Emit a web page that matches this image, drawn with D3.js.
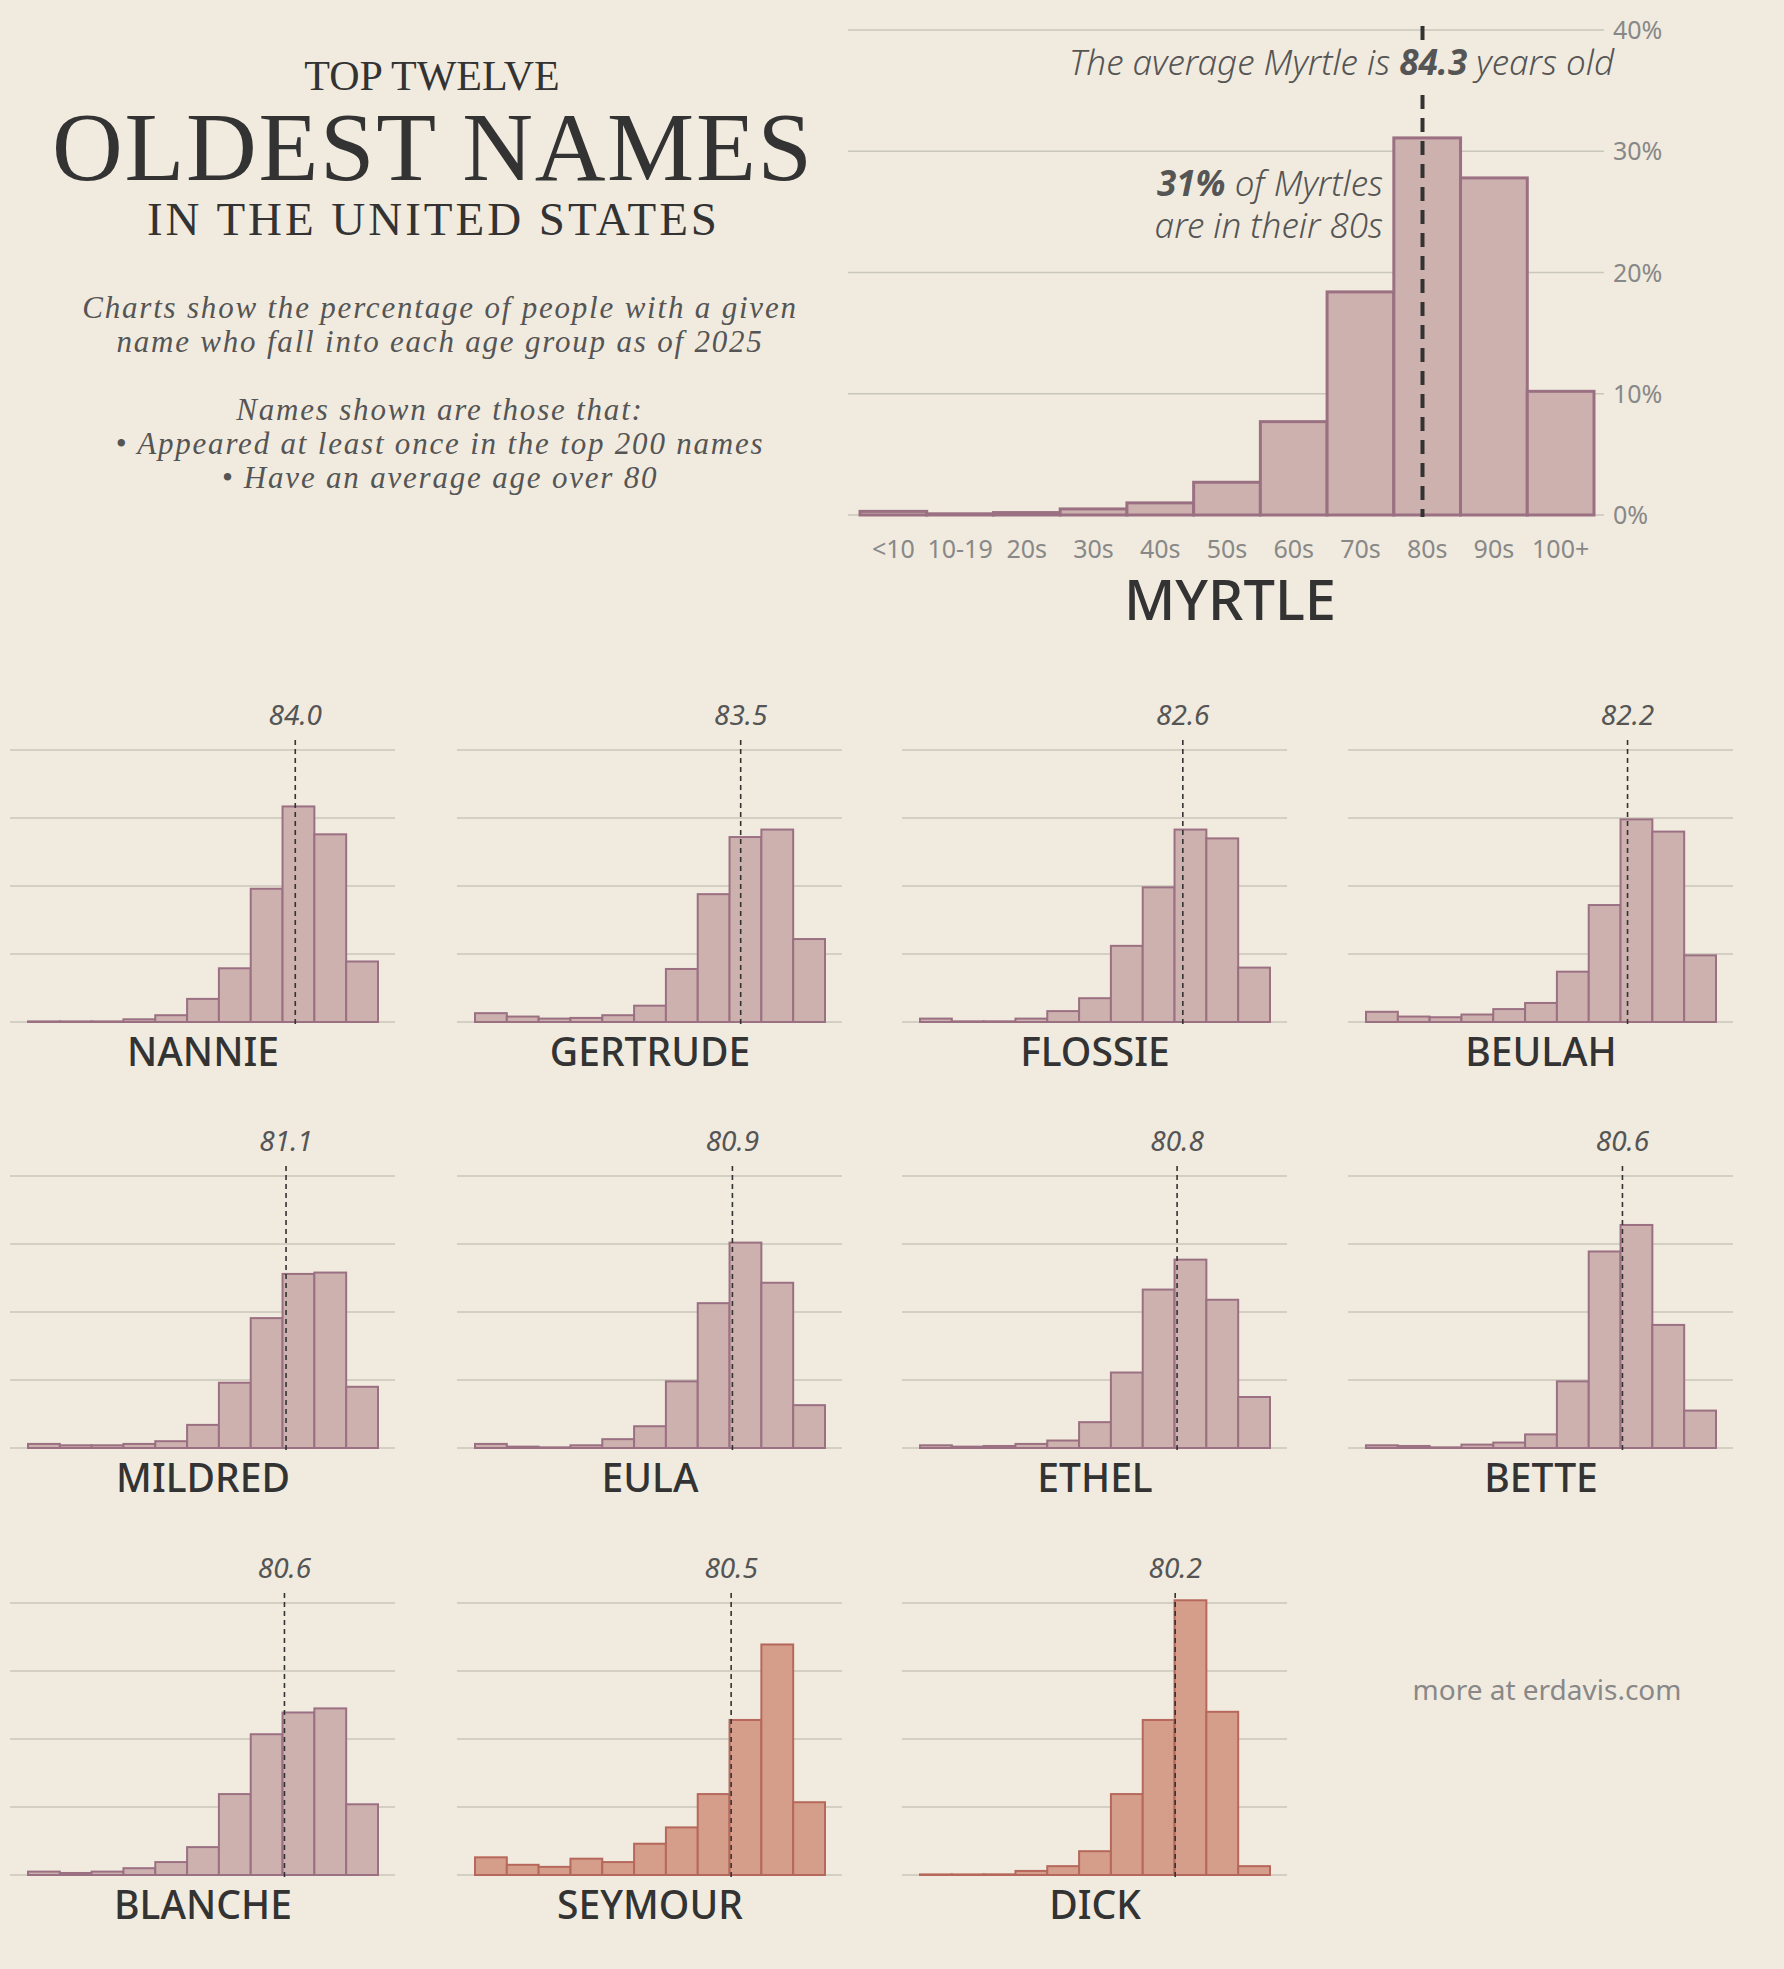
<!DOCTYPE html>
<html><head><meta charset="utf-8">
<script src="https://cdn.jsdelivr.net/npm/d3@7"></script>
<style>body{margin:0;background:#f1ebdf}</style></head>
<body><svg id="c" width="1784" height="1969"></svg>
<script>
const ageGroups = ["<10","10-19","20s","30s","40s","50s","60s","70s","80s","90s","100+"];
const yTicks = [0,10,20,30,40];
const names = ["NANNIE","GERTRUDE","FLOSSIE","BEULAH","MILDRED","EULA","ETHEL","BETTE","BLANCHE","SEYMOUR","DICK"];
const means = [84.0,83.5,82.6,82.2,81.1,80.9,80.8,80.6,80.6,80.5,80.2];
const male = ["SEYMOUR","DICK"];
const myrtle = [0.3,0.1,0.2,0.5,1.0,2.7,7.7,18.4,31.1,27.8,10.2];
const myrtleMean = 84.3;
const values = [
 [0,0,0,0.4,1.0,3.4,7.9,19.6,31.7,27.6,8.9],
 [1.3,0.8,0.5,0.6,1.0,2.4,7.8,18.8,27.2,28.3,12.2],
 [0.5,0.1,0.1,0.5,1.6,3.5,11.2,19.8,28.3,27.0,8.0],
 [1.5,0.8,0.7,1.1,1.9,2.8,7.4,17.2,29.8,28.0,9.8],
 [0.6,0.4,0.4,0.6,1.0,3.4,9.6,19.1,25.6,25.8,9.0],
 [0.6,0.2,0.1,0.4,1.3,3.2,9.8,21.3,30.2,24.3,6.3],
 [0.4,0.2,0.3,0.6,1.1,3.8,11.1,23.3,27.7,21.8,7.5],
 [0.4,0.3,0.1,0.5,0.8,2.0,9.8,28.9,32.8,18.1,5.5],
 [0.5,0.3,0.5,1.0,1.9,4.1,11.9,20.7,23.9,24.5,10.4],
 [2.6,1.5,1.2,2.4,1.9,4.6,7.0,11.9,22.8,33.9,10.7],
 [0,0,0.1,0.6,1.3,3.5,11.9,22.8,40.4,24.0,1.3]
];
const svg = d3.select("#c");
svg.append("rect").attr("width",1784).attr("height",1969).attr("fill","#f1ebdf");
const serif="'Liberation Serif','DejaVu Serif',serif", sans="'Noto Sans',Roboto,sans-serif";
const T = svg.append("g").attr("text-anchor","middle").attr("fill","#333").attr("font-family",serif);
T.append("text").attr("x",432).attr("y",90).attr("font-size",42).text("TOP TWELVE");
T.append("text").attr("x",432).attr("y",180).attr("font-size",98).attr("textLength",760).text("OLDEST NAMES");
T.append("text").attr("x",432).attr("y",235).attr("font-size",47).attr("textLength",570).text("IN THE UNITED STATES");
const sub=["Charts show the percentage of people with a given","name who fall into each age group as of 2025","","Names shown are those that:","• Appeared  at least once in the top 200 names","• Have an average age over 80"];
sub.forEach((s,i)=>T.append("text").attr("x",440).attr("y",318+i*34).attr("font-size",31).attr("font-style","italic").attr("fill","#555").attr("letter-spacing",1.8).text(s));

function hist(g, data, mean, opt){
  const x=d3.scaleBand().domain(ageGroups).range([opt.bx0,opt.bx1]).padding(0);
  const y=d3.scaleLinear().domain([0,40]).range([opt.base,opt.top]);
  const ax=d3.scaleLinear().domain([0,110]).range([opt.bx0,opt.bx1]);
  g.selectAll(".gl").data(yTicks).join("line").attr("x1",opt.gx0).attr("x2",opt.gx1)
   .attr("y1",d=>y(d)).attr("y2",d=>y(d)).attr("stroke","#c9c6ba").attr("stroke-width",1.3);
  g.selectAll(".b").data(data).join("rect").attr("x",(d,i)=>x(ageGroups[i])).attr("width",x.bandwidth())
   .attr("y",d=>Math.min(y(d),opt.base-0.6)).attr("height",d=>Math.max(opt.base-y(d),0.6)).attr("fill",opt.fill).attr("stroke",opt.stroke).attr("stroke-width",opt.sw);
  g.append("line").attr("x1",ax(mean)).attr("x2",ax(mean)).attr("y1",opt.lineTop).attr("y2",opt.base+2)
   .attr("stroke","#333").attr("stroke-width",opt.lw).attr("stroke-dasharray",opt.dash);
  return {x,y,ax};
}
// Myrtle
const gm=svg.append("g");
const m=hist(gm,myrtle,myrtleMean,{bx0:860,bx1:1594,gx0:848,gx1:1604,base:515,top:30,fill:"#ccb1af",stroke:"#9b7082",sw:3,lw:4,dash:"14,9",lineTop:26});
gm.selectAll(".yl").data(yTicks).join("text").attr("x",1613).attr("y",d=>m.y(d)+9).attr("font-family",sans).attr("font-size",25).attr("fill","#888").text(d=>d+"%");
gm.selectAll(".xl").data(ageGroups).join("text").attr("x",d=>m.x(d)+m.x.bandwidth()/2).attr("y",558).attr("text-anchor","middle").attr("font-family",sans).attr("font-size",25).attr("fill","#888").text(d=>d);
gm.append("text").attr("x",1230).attr("y",620).attr("text-anchor","middle").attr("font-family",sans).attr("font-size",56).attr("font-weight",500).attr("fill","#333").text("MYRTLE");
gm.append("rect").attr("x",1030).attr("y",40).attr("width",590).attr("height",48).attr("fill","#f1ebdf");
const a1=gm.append("text").attr("x",1614).attr("y",75).attr("text-anchor","end").attr("font-family",sans).attr("font-style","italic").attr("font-size",35).attr("font-weight",300).attr("fill","#555");
a1.append("tspan").text("The average Myrtle is ");a1.append("tspan").attr("font-weight",700).text(myrtleMean.toFixed(1));a1.append("tspan").text(" years old");
const a2=gm.append("text").attr("x",1383).attr("y",196).attr("text-anchor","end").attr("font-family",sans).attr("font-style","italic").attr("font-size",35).attr("font-weight",300).attr("fill","#555");
a2.append("tspan").attr("font-weight",700).text(Math.round(myrtle[8])+"%");a2.append("tspan").text(" of Myrtles");
gm.append("text").attr("x",1383).attr("y",238).attr("text-anchor","end").attr("font-family",sans).attr("font-style","italic").attr("font-size",35).attr("font-weight",300).attr("fill","#555").text("are in their 80s");

const colX=[10,457,902,1348], rowBase=[1022,1448,1875];
names.forEach((n,i)=>{
  const c=i%4,r=Math.floor(i/4),x0=colX[c],base=rowBase[r];
  const g=svg.append("g");
  const isM=male.includes(n);
  const s=hist(g,values[i],means[i],{bx0:x0+18,bx1:x0+368,gx0:x0,gx1:x0+385,base:base,top:base-272,
     fill:isM?"#d59e8a":"#ccb1af",stroke:isM?"#b5685b":"#9b7082",sw:2,lw:1.6,dash:"5,4",lineTop:base-282});
  g.append("text").attr("x",s.ax(means[i])).attr("y",base-297).attr("text-anchor","middle").attr("font-family",sans).attr("font-style","italic").attr("font-size",28).attr("fill","#555").text(means[i].toFixed(1));
  g.append("text").attr("x",x0+193).attr("y",base+44).attr("text-anchor","middle").attr("font-family",sans).attr("font-size",39).attr("font-weight",500).attr("fill","#333").text(n);
});
svg.append("text").attr("x",1547).attr("y",1700).attr("text-anchor","middle").attr("font-family",sans).attr("font-size",28).attr("fill","#888").text("more at erdavis.com");
</script></body></html>
